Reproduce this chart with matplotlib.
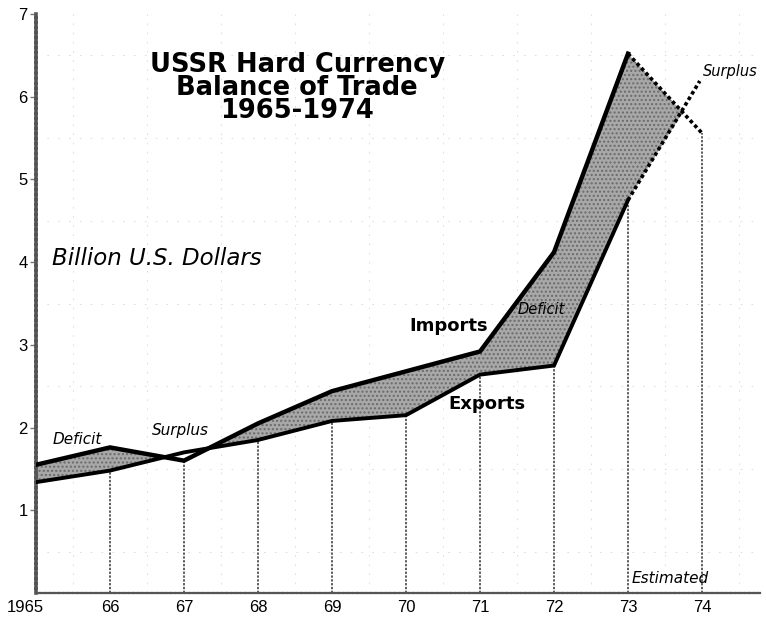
import matplotlib.pyplot as plt
import matplotlib.transforms as mtransforms
import numpy as np

# USSR hard currency trade, billion US dollars (1974 estimated)
years = [1965, 1966, 1967, 1968, 1969, 1970, 1971, 1972, 1973, 1974]
imports = [1.55, 1.76, 1.60, 2.05, 2.44, 2.68, 2.92, 4.12, 6.52, 5.56]
exports = [1.34, 1.48, 1.70, 1.85, 2.08, 2.15, 2.64, 2.75, 4.75, 6.19]
year_labels = ['1965', '66', '67', '68', '69', '70', '71', '72', '73', '74']
y_ticks = [1, 2, 3, 4, 5, 6, 7]

yr = np.array(years, dtype=float)
imp = np.array(imports)
exp_ = np.array(exports)

fig = plt.figure(figsize=(7.66, 6.24), dpi=100)
ax = fig.add_axes([36 / 766, 31 / 624, 724 / 766, 579 / 624])
ax.set_xlim(1965, 1965 + 724 / 74.0)
ax.set_ylim(0, 7)

# faint background grid, like the printed sheet
for gx in np.arange(1965.5, 1975, 1.0):
    ax.axvline(gx, color='#d8d8d8', lw=0.6, ls=(0, (2, 9)), zorder=0)
for gy in np.arange(0.5, 7.5, 1.0):
    ax.axhline(gy, color='#d8d8d8', lw=0.6, ls=(0, (2, 11)), zorder=0)

# deficit shading (imports above exports)
ax.fill_between(yr, imp, exp_, where=imp >= exp_, interpolate=True,
                facecolor='#a8a8a8', edgecolor='#6a6a6a', hatch='....',
                linewidth=0, zorder=1)

# vertical drop lines from the lower curve to the axis
low = np.minimum(imp, exp_)
ax.vlines(yr[1:], 0, low[1:], colors='#333333', lw=1.1,
          linestyles=(0, (1.5, 1.0)), zorder=2)

# solid through 1973, dotted to the 1974 estimate
ax.plot(yr[:-1], imp[:-1], color='black', lw=3.2, solid_joinstyle='miter', zorder=4)
ax.plot(yr[:-1], exp_[:-1], color='black', lw=2.8, solid_joinstyle='miter', zorder=4)
ax.plot(yr[-2:], imp[-2:], color='black', lw=2.6, ls=(0, (1, 0.8)), zorder=4)
ax.plot([yr[-2], yr[-1] - 0.03], [exp_[-2], exp_[-1]], color='black', lw=2.6,
        ls=(0, (1, 0.8)), zorder=4)

# axes styling
for s in ['top', 'right']:
    ax.spines[s].set_visible(False)
ax.spines['left'].set_linewidth(2.6)
ax.spines['left'].set_color('#555555')
ax.spines['left'].set_linestyle((0, (1, 0.4)))
ax.spines['bottom'].set_linewidth(1.6)
ax.spines['bottom'].set_color('#555555')
ax.spines['bottom'].set_linestyle((0, (1.5, 0.6)))

ax.set_yticks(y_ticks)
ax.set_yticklabels([str(t) for t in y_ticks], fontsize=12, family='Liberation Sans')
ax.tick_params(axis='y', length=4, width=1, color='#777777', pad=2)
ax.set_xticks(years)
ax.set_xticklabels(year_labels, fontsize=12, family='Liberation Sans')
ax.tick_params(axis='x', length=0, pad=5)
first = ax.get_xticklabels()[0]
first.set_transform(first.get_transform() +
                    mtransforms.ScaledTranslation(-8 / 72, 0, fig.dpi_scale_trans))

# text
ax.text(1968.53, 6.54, 'USSR Hard Currency\nBalance of Trade\n1965-1974',
        ha='center', va='top', fontsize=18.5, fontweight='bold',
        family='DejaVu Sans', linespacing=0.85)
ax.text(1965.22, 4.05, 'Billion U.S. Dollars', fontsize=16.5, style='italic',
        family='DejaVu Sans', va='center')
ax.text(1965.23, 1.85, 'Deficit', fontsize=11, style='italic',
        family='DejaVu Sans', va='center')
ax.text(1966.57, 1.97, 'Surplus', fontsize=11, style='italic',
        family='DejaVu Sans', va='center')
ax.text(1971.51, 3.43, 'Deficit', fontsize=10.5, style='italic',
        family='DejaVu Sans', va='center')
ax.text(1970.05, 3.23, 'Imports', fontsize=13, fontweight='bold',
        family='DejaVu Sans', va='center')
ax.text(1970.57, 2.29, 'Exports', fontsize=13, fontweight='bold',
        family='DejaVu Sans', va='center')
ax.text(1974.01, 6.3, 'Surplus', fontsize=10.5, style='italic',
        family='DejaVu Sans', va='center')
ax.text(1973.05, 0.18, 'Estimated', fontsize=11, style='italic',
        family='DejaVu Sans', va='center')

fig.savefig('out.png', dpi=100, facecolor='white')
